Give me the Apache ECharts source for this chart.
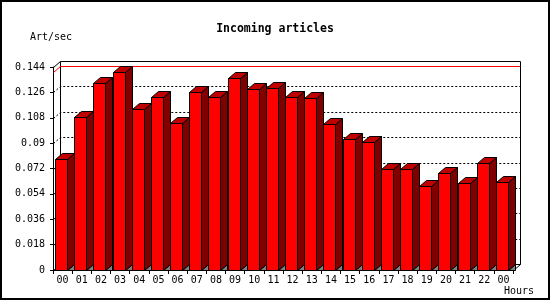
<!DOCTYPE html>
<html>
<head>
<meta charset="utf-8">
<script src="https://cdn.jsdelivr.net/npm/echarts/dist/echarts.min.js"></script>
<style>
html,body{margin:0;padding:0;background:#fff;}
#c{width:550px;height:300px;}
</style>
</head>
<body>
<div id="c"></div>
<script>
// ---- data ----
const hours = ['00','01','02','03','04','05','06','07','08','09','10','11',
               '12','13','14','15','16','17','18','19','20','21','22','00'];
const rates = [0.0785, 0.1083, 0.1329, 0.1402, 0.1140, 0.1229, 0.1041, 0.1260,
               0.1229, 0.1360, 0.1282, 0.1289, 0.1229, 0.1222, 0.1034, 0.0927,
               0.0910, 0.0714, 0.0714, 0.0596, 0.0690, 0.0615, 0.0757, 0.0626];
const yTicks = [0, 0.018, 0.036, 0.054, 0.072, 0.09, 0.108, 0.126, 0.144];
const titleText = 'Incoming articles';
const yName = 'Art/sec';
const xName = 'Hours';

// ---- drawing ----
const DX = 7, DY = -6;          // 3D depth offset (pixels)
const h = v => Math.round(v) + 0.5;
const MONO = 'DejaVu Sans Mono';
const yMin = yTicks[0], yMax = yTicks[yTicks.length - 1], yStep = yTicks[1] - yTicks[0];
const maxRate = Math.max.apply(null, rates);
const innerTicks = yTicks.slice(1, -1);

function wallGrid(params, api) {
  const cs = params.coordSys;
  const y = api.coord([0, api.value(1)])[1];
  const L = cs.x, R = cs.x + cs.width;
  return {
    type: 'polyline',
    shape: { points: [[h(L), h(y)], [h(L + DX), h(y + DY)], [h(R + DX), h(y + DY)]] },
    style: { stroke: '#000', fill: 'none', lineWidth: 1, lineDash: [2, 2] }
  };
}

function frame(params, api) {
  const cs = params.coordSys;
  const L = cs.x, R = cs.x + cs.width, T = cs.y, B = cs.y + cs.height;
  const ym = api.coord([0, api.value(1)])[1];
  const s = { stroke: '#000', fill: 'none', lineWidth: 1 };
  return {
    type: 'group',
    children: [
      { type: 'polyline', shape: { points: [[h(L), h(B)], [h(L + DX), h(B + DY)], [h(R + DX), h(B + DY)]] }, style: s },
      { type: 'polyline', shape: { points: [[h(L + DX), h(B + DY)], [h(L + DX), h(T + DY)]] }, style: s },
      { type: 'polyline', shape: { points: [[h(L), h(ym)], [h(L + DX), h(ym + DY)], [h(R + DX), h(ym + DY)]] },
        style: { stroke: '#ff0000', fill: 'none', lineWidth: 1 } },
      { type: 'polyline', shape: { points: [[h(L), h(T)], [h(L + DX), h(T + DY)], [h(R + DX), h(T + DY)], [h(R + DX), h(B + DY)], [h(R), h(B)]] }, style: s }
    ]
  };
}

function bar3d(params, api) {
  const i = api.value(0), v = api.value(1);
  const top = api.coord([i, v]);
  const base = api.coord([i, 0]);
  const bw = api.size([1, 0])[0];
  const start = top[0] - bw / 2;
  const x0 = h(start + 2), x1 = h(start + 14);
  const yt = h(top[1]), yb = h(base[1]);
  const ol = { stroke: '#000', lineWidth: 1 };
  return {
    type: 'group',
    children: [
      { type: 'polygon', shape: { points: [[x1, yb], [x1 + DX, yb + DY], [x1 + DX, yb]] },
        style: { fill: '#808080', stroke: '#000', lineWidth: 1 } },
      { type: 'polygon', shape: { points: [[x1, yt], [x1 + DX, yt + DY], [x1 + DX, yb + DY], [x1, yb]] },
        style: Object.assign({ fill: '#800000' }, ol) },
      { type: 'polygon', shape: { points: [[x0, yt], [x1, yt], [x1 + DX, yt + DY], [x0 + DX, yt + DY]] },
        style: Object.assign({ fill: '#c00000' }, ol) },
      { type: 'rect', shape: { x: x0, y: yt, width: x1 - x0, height: yb - yt },
        style: Object.assign({ fill: '#ff0000' }, ol) }
    ]
  };
}

const chart = echarts.init(document.getElementById('c'), null, { renderer: 'canvas' });
chart.setOption({
  animation: false,
  backgroundColor: '#fff',
  graphic: [{
    type: 'rect', shape: { x: 1, y: 1, width: 548, height: 298 },
    style: { stroke: '#000', lineWidth: 2, fill: 'none' }, z: 100
  }],
  title: [
    { text: titleText, left: 'center', top: 18,
      textStyle: { fontFamily: MONO, fontWeight: 'bold', fontSize: 11.5, color: '#000' } },
    { text: yName, left: 30, top: 32, padding: 0,
      textStyle: { fontFamily: MONO, fontWeight: 'normal', fontSize: 10, color: '#000' } },
    { text: xName, left: 504, top: 286, padding: 0,
      textStyle: { fontFamily: MONO, fontWeight: 'normal', fontSize: 10, color: '#000' } }
  ],
  grid: { left: 53, right: 37, top: 67, bottom: 30, containLabel: false },
  xAxis: {
    type: 'category', data: hours, boundaryGap: true,
    axisLine: { show: true, lineStyle: { color: '#000', width: 1 } },
    axisTick: { show: true, length: 4, interval: 0, lineStyle: { color: '#000' } },
    axisLabel: { interval: 0, margin: 5, fontFamily: MONO, fontSize: 10, color: '#000' },
    splitLine: { show: false }
  },
  yAxis: {
    type: 'value', min: yMin, max: yMax, interval: yStep,
    axisLine: { show: true, lineStyle: { color: '#000', width: 1 } },
    axisTick: { show: true, length: 3, lineStyle: { color: '#000' } },
    axisLabel: { margin: 8, fontFamily: MONO, fontSize: 10, color: '#000',
      formatter: v => String(+v.toFixed(3)) },
    splitLine: { show: false }
  },
  series: [
    { type: 'custom', name: 'wall', renderItem: wallGrid, z: 1, silent: true,
      data: innerTicks.map(t => [0, t]) },
    { type: 'custom', name: 'frame', renderItem: frame, z: 1, silent: true,
      data: [[0, maxRate]] },
    { type: 'custom', name: 'rates', renderItem: bar3d, z: 3,
      data: rates.map((v, i) => [i, v]) }
  ]
});
</script>
</body>
</html>
